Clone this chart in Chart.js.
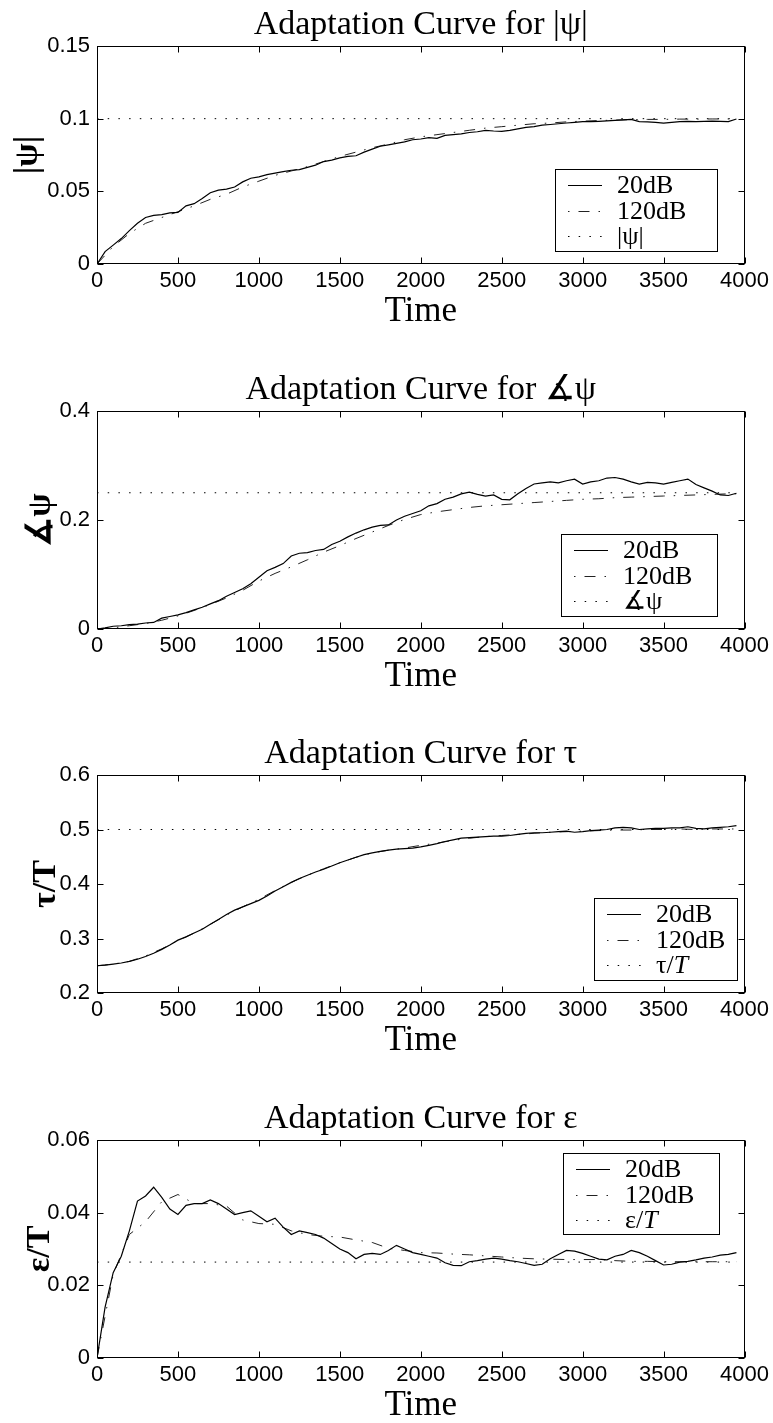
<!DOCTYPE html>
<html>
<head>
<meta charset="utf-8">
<title>Adaptation curves</title>
<script src="https://cdn.jsdelivr.net/npm/chart.js@4.4.1/dist/chart.umd.min.js"></script>
<style>
  body { margin: 0; background: #fff; width: 773px; height: 1423px; position: relative; overflow: hidden; }
  .panel { position: absolute; left: 0; width: 773px; height: 340px; }
</style>
</head>
<body>
<div class="panel" style="top:0px"><canvas id="absPsi" width="773" height="340"></canvas></div>
<div class="panel" style="top:365px"><canvas id="argPsi" width="773" height="340"></canvas></div>
<div class="panel" style="top:729px"><canvas id="tau" width="773" height="340"></canvas></div>
<div class="panel" style="top:1094px"><canvas id="eps" width="773" height="340"></canvas></div>
<script>
// sample times (20dB run every 50 steps, 120dB run every 100 steps)
const time20 = [0, 50, 100, 150, 200, 250, 300, 350, 400, 450, 500, 550, 600, 650, 700, 750, 800, 850, 900, 950,
  1000, 1050, 1100, 1150, 1200, 1250, 1300, 1350, 1400, 1450, 1500, 1550, 1600, 1650, 1700, 1750, 1800, 1850, 1900, 1950,
  2000, 2050, 2100, 2150, 2200, 2250, 2300, 2350, 2400, 2450, 2500, 2550, 2600, 2650, 2700, 2750, 2800, 2850, 2900, 2950,
  3000, 3050, 3100, 3150, 3200, 3250, 3300, 3350, 3400, 3450, 3500, 3550, 3600, 3650, 3700, 3750, 3800, 3850, 3900, 3950];
const time120 = [0, 100, 200, 300, 400, 500, 600, 700, 800, 900, 1000, 1100, 1200, 1300, 1400, 1500, 1600, 1700, 1800, 1900,
  2000, 2100, 2200, 2300, 2400, 2500, 2600, 2700, 2800, 2900, 3000, 3100, 3200, 3300, 3400, 3500, 3600, 3700, 3800, 3900, 3950];
const timeRef = [0, 3950];

// |psi|
const absPsi20 = [0, 0.0085, 0.013, 0.0175, 0.023, 0.028, 0.032, 0.0335, 0.034, 0.0352,
  0.0355, 0.040, 0.0415, 0.045, 0.049, 0.0508, 0.0515, 0.053, 0.0565, 0.059,
  0.060, 0.0615, 0.0625, 0.0635, 0.0645, 0.065, 0.0665, 0.068, 0.0705, 0.0715,
  0.073, 0.074, 0.0745, 0.077, 0.079, 0.081, 0.082, 0.083, 0.084, 0.0855,
  0.086, 0.087, 0.0865, 0.0885, 0.089, 0.0895, 0.0905, 0.091, 0.092, 0.0915,
  0.0912, 0.092, 0.093, 0.094, 0.0945, 0.0955, 0.096, 0.0965, 0.097, 0.0975,
  0.098, 0.098, 0.0982, 0.0985, 0.0988, 0.0992, 0.0995, 0.098, 0.0978, 0.0975,
  0.097, 0.0975, 0.098, 0.0982, 0.098, 0.0982, 0.0983, 0.0982, 0.098, 0.0998];
const absPsi120 = [0, 0.012, 0.021, 0.028, 0.032, 0.036, 0.040, 0.0445, 0.048, 0.053,
  0.057, 0.061, 0.064, 0.067, 0.0705, 0.074, 0.077, 0.080, 0.0825, 0.0855,
  0.0875, 0.089, 0.0905, 0.092, 0.0935, 0.0945, 0.0955, 0.0965, 0.097, 0.0978,
  0.0983, 0.0987, 0.099, 0.0993, 0.0995, 0.0995, 0.0997, 0.0997, 0.0998, 0.0998, 0.0998];
const absPsiRef = [0.1, 0.1];

// angle psi
const argPsi20 = [0, 0.002, 0.005, 0.006, 0.008, 0.009, 0.011, 0.012, 0.020, 0.023,
  0.026, 0.030, 0.035, 0.040, 0.046, 0.052, 0.060, 0.067, 0.074, 0.083,
  0.095, 0.107, 0.113, 0.120, 0.134, 0.139, 0.140, 0.144, 0.146, 0.155,
  0.161, 0.169, 0.176, 0.182, 0.187, 0.190, 0.191, 0.200, 0.207, 0.212,
  0.217, 0.226, 0.230, 0.238, 0.242, 0.248, 0.251, 0.247, 0.244, 0.246,
  0.238, 0.237, 0.248, 0.258, 0.266, 0.268, 0.270, 0.268, 0.272, 0.275,
  0.266, 0.270, 0.272, 0.277, 0.278, 0.275, 0.270, 0.266, 0.269, 0.268,
  0.266, 0.269, 0.272, 0.275, 0.265, 0.259, 0.253, 0.246, 0.245, 0.249];
const argPsi120 = [0, 0.002, 0.006, 0.010, 0.016, 0.024, 0.034, 0.045, 0.057, 0.071,
  0.088, 0.102, 0.114, 0.127, 0.141, 0.153, 0.166, 0.178, 0.190, 0.201,
  0.210, 0.215, 0.219, 0.223, 0.226, 0.228, 0.230, 0.232, 0.234, 0.236,
  0.238, 0.239, 0.241, 0.242, 0.243, 0.244, 0.245, 0.246, 0.247, 0.248, 0.248];
const argPsiRef = [0.25, 0.25];

// tau / T
const tau20 = [0.250, 0.251, 0.253, 0.255, 0.258, 0.262, 0.267, 0.273, 0.280, 0.288,
  0.297, 0.303, 0.310, 0.317, 0.326, 0.335, 0.344, 0.352, 0.358, 0.364,
  0.370, 0.378, 0.387, 0.395, 0.403, 0.410, 0.416, 0.422, 0.427, 0.433,
  0.439, 0.444, 0.449, 0.454, 0.457, 0.460, 0.462, 0.464, 0.465, 0.466,
  0.468, 0.471, 0.474, 0.478, 0.481, 0.484, 0.485, 0.486, 0.487, 0.488,
  0.488, 0.489, 0.491, 0.493, 0.494, 0.494, 0.495, 0.496, 0.497, 0.495,
  0.496, 0.498, 0.499, 0.500, 0.503, 0.504, 0.503, 0.500, 0.501, 0.502,
  0.502, 0.503, 0.503, 0.505, 0.502, 0.501, 0.503, 0.504, 0.505, 0.507];
const tau120 = [0.250, 0.253, 0.258, 0.268, 0.281, 0.296, 0.310, 0.326, 0.343, 0.358,
  0.372, 0.388, 0.403, 0.416, 0.428, 0.439, 0.449, 0.457, 0.462, 0.466,
  0.471, 0.475, 0.480, 0.484, 0.487, 0.489, 0.491, 0.493, 0.495, 0.496,
  0.497, 0.498, 0.499, 0.499, 0.500, 0.500, 0.501, 0.500, 0.501, 0.501, 0.501];
const tauRef = [0.5, 0.5];

// epsilon / T
const eps20 = [0, 0.014, 0.0235, 0.028, 0.035, 0.0432, 0.0446, 0.047, 0.0442, 0.041,
  0.0395, 0.042, 0.0425, 0.0425, 0.0435, 0.0425, 0.041, 0.0395, 0.040, 0.0405,
  0.039, 0.0375, 0.0385, 0.036, 0.034, 0.035, 0.0345, 0.034, 0.033, 0.0315,
  0.030, 0.029, 0.0273, 0.0285, 0.0288, 0.0285, 0.0296, 0.031, 0.030, 0.029,
  0.0285, 0.028, 0.0275, 0.0262, 0.0255, 0.0254, 0.0265, 0.0268, 0.0272, 0.0275,
  0.0272, 0.0268, 0.0265, 0.026, 0.0255, 0.0258, 0.0273, 0.0285, 0.0296, 0.0294,
  0.0288, 0.028, 0.0272, 0.027, 0.028, 0.0285, 0.0296, 0.029, 0.028, 0.0268,
  0.0256, 0.0258, 0.0264, 0.0266, 0.027, 0.0275, 0.0278, 0.0283, 0.0285, 0.029];
const eps120 = [0, 0.023, 0.034, 0.0375, 0.043, 0.045, 0.0425, 0.0425, 0.0418, 0.038,
  0.037, 0.0368, 0.035, 0.034, 0.0335, 0.0333, 0.0325, 0.0318, 0.0302, 0.0296,
  0.029, 0.0289, 0.0286, 0.0284, 0.0281, 0.0278, 0.0275, 0.0273, 0.0272, 0.0271,
  0.0271, 0.0271, 0.0268, 0.0266, 0.0266, 0.0265, 0.0265, 0.0265, 0.0265, 0.0265, 0.0265];
const epsRef = [0.0264, 0.0264];

const xTicks = [0, 500, 1000, 1500, 2000, 2500, 3000, 3500, 4000];

const serif = '"Liberation Serif", "Times New Roman", Times, "DejaVu Serif", serif';
const sans = '"Liberation Sans", Helvetica, Arial, sans-serif';
const dashDot = [11, 9, 1.5, 9];
const dotted = [1.5, 9.2];

function pairs(times, values) {
    return times.map((t, i) => ({ x: t, y: values[i] }));
}

// box round the axes and MATLAB-style inward ticks on all four sides
const boxTicks = {
    id: "boxTicks",
    afterDatasetsDraw(chart) {
        const { ctx, chartArea: a, scales } = chart;
        const L = Math.round(a.left) + 0.5, R = Math.round(a.right) - 0.5;
        const T = Math.round(a.top) + 0.5, B = Math.round(a.bottom) - 0.5;
        ctx.save();
        ctx.strokeStyle = "#000";
        ctx.lineWidth = 1;
        ctx.setLineDash([]);
        ctx.beginPath();
        scales.x.ticks.forEach((t) => {
            const px = Math.round(scales.x.getPixelForValue(t.value)) + 0.5;
            ctx.moveTo(px, B); ctx.lineTo(px, B - 6);
            ctx.moveTo(px, T); ctx.lineTo(px, T + 6);
        });
        scales.y.ticks.forEach((t) => {
            const py = Math.round(scales.y.getPixelForValue(t.value)) + 0.5;
            ctx.moveTo(L, py); ctx.lineTo(L + 6, py);
            ctx.moveTo(R, py); ctx.lineTo(R - 6, py);
        });
        ctx.stroke();
        ctx.strokeRect(L, T, R - L, B - T);
        ctx.restore();
    },
};

function drawLabel(ctx, text, x, y) {
    ctx.fillStyle = "#000";
    ctx.textBaseline = "middle";
    ctx.textAlign = "left";
    ctx.font = `26px ${serif}`;
    if (text.endsWith("/T")) {
        const head = text.slice(0, -1);
        ctx.fillText(head, x, y);
        const w = ctx.measureText(head).width;
        ctx.font = `italic 26px ${serif}`;
        ctx.fillText("T", x + w, y);
    } else {
        ctx.fillText(text, x, y);
    }
}

// framed legend at a fixed spot inside the axes
const boxLegend = {
    id: "boxLegend",
    afterDraw(chart, args, opts) {
        const ctx = chart.ctx;
        const { x, y, w, h } = opts;
        ctx.save();
        ctx.fillStyle = "#fff";
        ctx.fillRect(x, y, w, h);
        ctx.strokeStyle = "#000";
        ctx.lineWidth = 1;
        ctx.setLineDash([]);
        ctx.strokeRect(x + 0.5, y + 0.5, w, h);
        chart.data.datasets.forEach((ds, i) => {
            const ry = Math.round(y + 16 + i * 25.5) + 0.5;
            ctx.beginPath();
            ctx.strokeStyle = ds.borderColor;
            ctx.lineWidth = ds.borderWidth;
            ctx.setLineDash(ds.borderDash || []);
            ctx.lineDashOffset = ds.borderDash === dashDot ? 20 : 0;
            ctx.moveTo(x + 13, ry);
            ctx.lineTo(x + 47, ry);
            ctx.stroke();
            ctx.setLineDash([]);
            drawLabel(ctx, ds.label, x + 62, ry + 1);
        });
        ctx.restore();
    },
};

function makeChart(id, title, yTitle, refLabel, yMin, yMax, yStep, v20, v120, vRef, legendBox, yTitlePad) {
    const ctx = document.getElementById(id).getContext("2d");
    return new Chart(ctx, {
        type: "line",
        data: {
            datasets: [
                { label: "20dB", data: pairs(time20, v20), borderColor: "#000", borderWidth: 1.2 },
                { label: "120dB", data: pairs(time120, v120), borderColor: "#222", borderWidth: 1, borderDash: dashDot },
                { label: refLabel, data: pairs(timeRef, vRef), borderColor: "#000", borderWidth: 1, borderDash: dotted },
            ],
        },
        options: {
            responsive: false,
            animation: false,
            events: [],
            layout: { padding: { left: 0, right: 26, top: 0, bottom: 0 } },
            elements: { point: { radius: 0 }, line: { tension: 0 } },
            scales: {
                x: {
                    type: "linear",
                    min: 0,
                    max: 4000,
                    afterBuildTicks: (s) => { s.ticks = xTicks.map((v) => ({ value: v })); },
                    afterFit: (s) => { s.height = 76; },
                    grid: { display: false, drawTicks: false },
                    border: { display: false },
                    ticks: {
                        color: "#000",
                        padding: 4,
                        maxRotation: 0,
                        autoSkip: false,
                        font: { family: sans, size: 22 },
                        callback: (v) => String(v),
                    },
                    title: {
                        display: true,
                        text: "Time",
                        color: "#000",
                        font: { family: serif, size: 35, lineHeight: 1 },
                        padding: { top: 0, bottom: 11 },
                    },
                },
                y: {
                    min: yMin,
                    max: yMax,
                    afterFit: (s) => { s.width = 97; },
                    grid: { display: false, drawTicks: false },
                    border: { display: false },
                    ticks: {
                        stepSize: yStep,
                        color: "#000",
                        padding: 7,
                        font: { family: sans, size: 22 },
                        callback: (v) => String(+v.toFixed(4)),
                    },
                    title: {
                        display: true,
                        text: yTitle,
                        color: "#000",
                        font: { family: serif, size: 34, weight: "bold", lineHeight: 1 },
                        padding: { top: yTitlePad, bottom: 0 },
                    },
                },
            },
            plugins: {
                legend: { display: false },
                tooltip: { enabled: false },
                title: {
                    display: true,
                    text: title,
                    color: "#000",
                    fullSize: false,
                    font: { family: serif, size: 34, weight: "normal", lineHeight: 1 },
                    padding: { top: 8, bottom: 4 },
                },
                boxLegend: legendBox,
            },
        },
        plugins: [boxTicks, boxLegend],
    });
}

makeChart("absPsi", "Adaptation Curve for |\u03c8|", "|\u03c8|", "|\u03c8|", 0, 0.15, 0.05,
    absPsi20, absPsi120, absPsiRef, { x: 555, y: 169, w: 162, h: 82 }, 11);
makeChart("argPsi", "Adaptation Curve for \u2221\u03c8", "\u2221\u03c8", "\u2221\u03c8", 0, 0.4, 0.2,
    argPsi20, argPsi120, argPsiRef, { x: 561, y: 169, w: 156, h: 82 }, 24);
makeChart("tau", "Adaptation Curve for \u03c4", "\u03c4/T", "\u03c4/T", 0.2, 0.6, 0.1,
    tau20, tau120, tauRef, { x: 594, y: 169, w: 143, h: 82 }, 29);
makeChart("eps", "Adaptation Curve for \u03b5", "\u03b5/T", "\u03b5/T", 0, 0.06, 0.02,
    eps20, eps120, epsRef, { x: 563, y: 59, w: 156, h: 81 }, 23);
</script>
</body>
</html>
